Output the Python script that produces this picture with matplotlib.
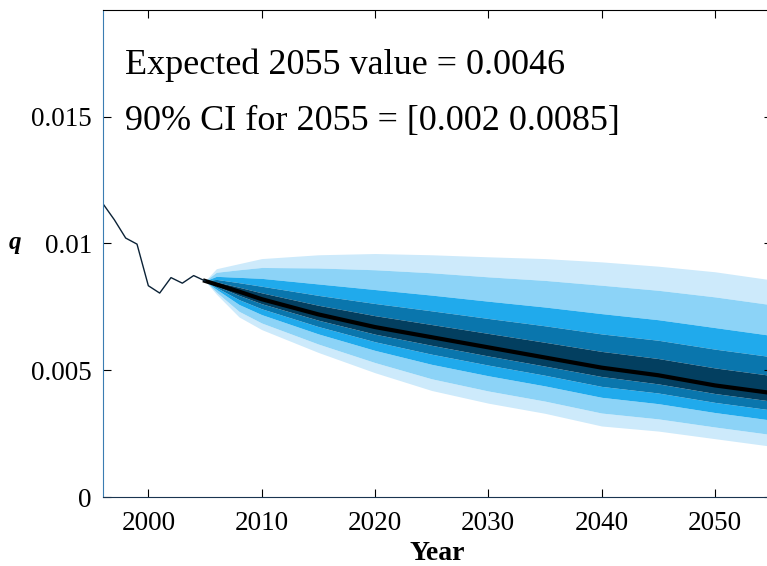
import numpy as np
import matplotlib
matplotlib.use("Agg")
import matplotlib.pyplot as plt

plt.rcParams['font.family'] = ['Liberation Serif', 'DejaVu Serif']

# historical q
hist_years = [1996, 1997, 1998, 1999, 2000, 2001, 2002, 2003, 2004, 2005]
hist_q = [0.01156, 0.01093, 0.01021, 0.00997, 0.00833, 0.00804, 0.00865, 0.00843, 0.00873, 0.00852]

# forecast quantiles
fc_years = [2005, 2006, 2008, 2010, 2015, 2020, 2025, 2030, 2035, 2040, 2045, 2050, 2055]
q05 = [0.00852, 0.00800, 0.00710, 0.00660, 0.00570, 0.00490, 0.00420, 0.00370, 0.00330, 0.00280, 0.00260, 0.00230, 0.00200]
q10 = [0.00852, 0.00808, 0.00732, 0.00686, 0.00603, 0.00530, 0.00466, 0.00418, 0.00378, 0.00331, 0.00308, 0.00276, 0.00246]
q20 = [0.00852, 0.00819, 0.00759, 0.00719, 0.00643, 0.00578, 0.00523, 0.00478, 0.00438, 0.00393, 0.00368, 0.00333, 0.00303]
q30 = [0.00852, 0.00826, 0.00778, 0.00742, 0.00672, 0.00612, 0.00563, 0.00520, 0.00480, 0.00436, 0.00410, 0.00373, 0.00343]
q40 = [0.00852, 0.00832, 0.00795, 0.00762, 0.00697, 0.00642, 0.00598, 0.00556, 0.00516, 0.00475, 0.00446, 0.00408, 0.00378]
q50 = [0.00852, 0.00838, 0.00810, 0.00780, 0.00720, 0.00670, 0.00630, 0.00590, 0.00550, 0.00510, 0.00480, 0.00440, 0.00410]
q60 = [0.00852, 0.00848, 0.00827, 0.00805, 0.00756, 0.00715, 0.00680, 0.00645, 0.00610, 0.00574, 0.00546, 0.00509, 0.00479]
q70 = [0.00852, 0.00858, 0.00845, 0.00831, 0.00795, 0.00763, 0.00734, 0.00704, 0.00675, 0.00643, 0.00618, 0.00583, 0.00553]
q80 = [0.00852, 0.00870, 0.00866, 0.00862, 0.00840, 0.00818, 0.00796, 0.00772, 0.00749, 0.00723, 0.00699, 0.00668, 0.00637]
q90 = [0.00852, 0.00886, 0.00896, 0.00905, 0.00903, 0.00896, 0.00884, 0.00868, 0.00854, 0.00835, 0.00815, 0.00789, 0.00758]
q95 = [0.00852, 0.00900, 0.00920, 0.00940, 0.00955, 0.00960, 0.00955, 0.00947, 0.00940, 0.00927, 0.00910, 0.00888, 0.00856]

year_ticks = [2000, 2010, 2020, 2030, 2040, 2050]
q_ticks = [0, 0.005, 0.01, 0.015]
q_ticklabels = ['0', '0.005', '0.01', '0.015']

fig = plt.figure(figsize=(7.67, 5.66), dpi=100)
ax = fig.add_axes([0.1343, 0.1219, 0.8717, 0.8604])

bands = [(q05, q10, '#cdeafb'), (q90, q95, '#cdeafb'),
         (q10, q20, '#8cd3f7'), (q80, q90, '#8cd3f7'),
         (q20, q30, '#20aaec'), (q70, q80, '#20aaec'),
         (q30, q40, '#0a76ad'), (q60, q70, '#0a76ad'),
         (q40, q60, '#033f60')]
for lo, hi, c in bands:
    ax.fill_between(fc_years, lo, hi, color=c, lw=0)
ax.plot(fc_years, q50, color='black', lw=3)
ax.plot(hist_years, hist_q, color='#0b2236', lw=1)

ax.set_xlim(1996, 2055)
ax.set_ylim(0, 0.0192)
ax.set_xticks(year_ticks)
ax.set_yticks(q_ticks)
ax.set_yticklabels(q_ticklabels)
ax.tick_params(direction='in', length=6, width=0.8, top=True, right=True,
               labelsize=19.5)
ax.tick_params(axis='x', pad=10)
ax.tick_params(axis='y', pad=8)
ax.spines['right'].set_visible(False)
ax.spines['left'].set_color('#3a7db2')
ax.spines['bottom'].set_color('#1a3550')

ax.set_xlabel('Year', fontsize=20, fontweight='bold', labelpad=4)
fig.text(0.02, 1 - 243 / 566, 'q', fontsize=18, fontweight='bold', style='italic',
         va='center', ha='center')

ax.text(0.033, 0.8686, 'Expected 2055 value = 0.0046', transform=ax.transAxes,
        fontsize=26, va='baseline')
ax.text(0.033, 0.7536, '90% CI for 2055 = [0.002 0.0085]', transform=ax.transAxes,
        fontsize=26, va='baseline')

plt.savefig('out.png', dpi=100)
